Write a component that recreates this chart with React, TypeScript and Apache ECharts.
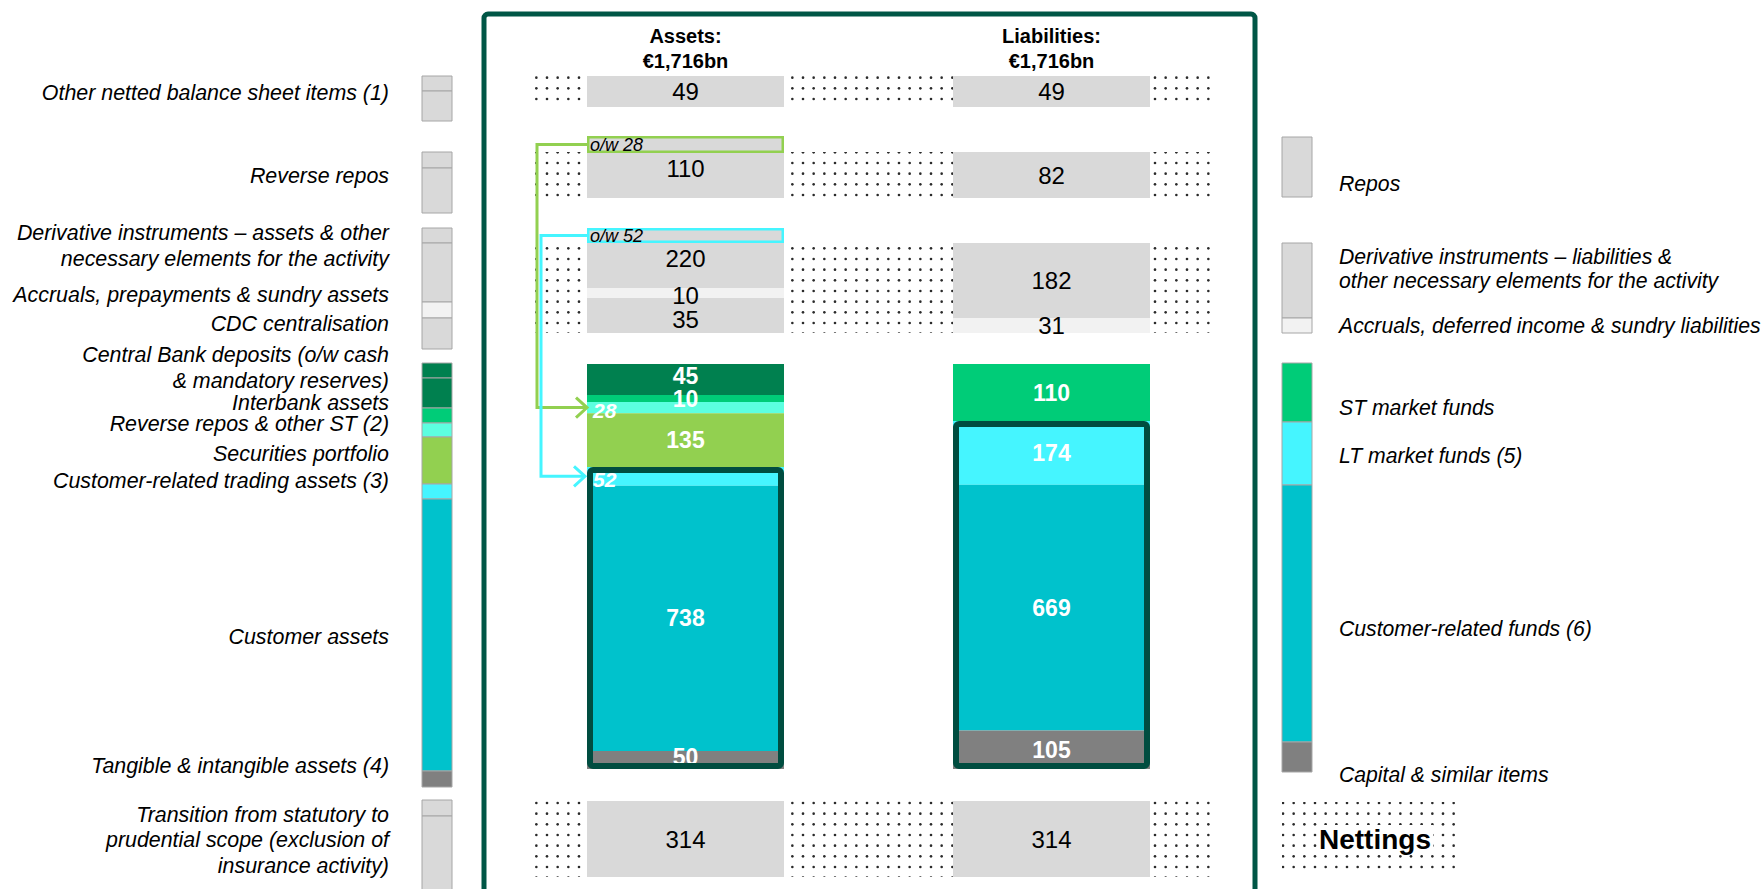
import React, { useEffect, useRef } from "react";
import * as echarts from "echarts";

// ---------------- data (€bn) ----------------
const COLUMNS = ["Assets", "Liabilities"];
const COLUMN_TOTALS = ["€1,716bn", "€1,716bn"];
const OTHER_NETTED = [49, 49];
const REPOS = [110, 82]; // reverse repos / repos
const REVERSE_REPOS_OF_WHICH = 28;
const DERIVATIVES = [220, 182];
const DERIVATIVES_OF_WHICH = 52;
const ASSET_ACCRUALS_CDC = [10, 35]; // accruals & sundry, CDC centralisation
const LIAB_ACCRUALS = [31];
const ASSET_CASH = [45, 10]; // central bank deposits, interbank assets
const ASSET_ST = [28, 135]; // reverse repos & other ST, securities portfolio
const ASSET_LT = [52, 738, 50]; // customer trading assets, customer assets, tangible & intangible
const LIAB_ST = [110]; // ST market funds
const LIAB_LT = [174, 669, 105]; // LT market funds, customer funds, capital
const TRANSITION = [314, 314];

const LEFT_LABELS = [
  "Other netted balance sheet items (1)",
  "Reverse repos",
  "Derivative instruments – assets & other",
  "necessary elements for the activity",
  "Accruals, prepayments & sundry assets",
  "CDC centralisation",
  "Central Bank deposits (o/w cash",
  "& mandatory reserves)",
  "Interbank assets",
  "Reverse repos & other ST (2)",
  "Securities portfolio",
  "Customer-related trading assets (3)",
  "Customer assets",
  "Tangible & intangible assets (4)",
  "Transition from statutory to",
  "prudential scope (exclusion of",
  "insurance activity)",
];
const RIGHT_LABELS = [
  "Repos",
  "Derivative instruments – liabilities &",
  "other necessary elements for the activity",
  "Accruals, deferred income & sundry liabilities",
  "ST market funds",
  "LT market funds (5)",
  "Customer-related funds (6)",
  "Capital & similar items",
];
const NETTINGS_LABEL = "Nettings";

// ---------------- styles & layout ----------------
const FONT = '"Liberation Sans", Arial, Helvetica, sans-serif';
const GREY = "#D9D9D9";
const LIGHT = "#F2F2F2";
const DKGREEN = "#00804F";
const MIDGREEN = "#00CC78";
const AQUA = "#5CFFE0";
const LTGREEN = "#92D050";
const CYAN = "#45F5FF";
const TEAL = "#00C2CC";
const DGREY = "#808080";
const OUTLINE = "#004D40";
const FRAME = "#005646";
const STRIP_BORDER = "#A6A6A6";

const COL_X = [587, 953];
const COL_W = 197;

const LEFT_Y = [93, 176, 233, 259, 295, 324, 355, 381, 403, 424, 454, 481, 637, 766, 815, 840, 866];
const RIGHT_Y = [183, 256, 280, 325, 407, 455, 628, 774];

type Block = {
  col: number;
  top: number;
  height: number;
  values: number[];
  colors: string[];
  kinds: string[];
  offsets?: number[];
  header?: boolean;
  outline?: boolean;
  border?: string;
};

const BLOCKS: Block[] = [
  { col: 0, top: 76, height: 31, values: [OTHER_NETTED[0]], colors: [GREY], kinds: ["dark"], header: true },
  { col: 1, top: 76, height: 31, values: [OTHER_NETTED[1]], colors: [GREY], kinds: ["dark"], header: true },
  { col: 0, top: 136, height: 17, values: [REVERSE_REPOS_OF_WHICH], colors: [GREY], kinds: ["box"], border: LTGREEN },
  { col: 0, top: 153, height: 45, values: [REPOS[0]], colors: [GREY], kinds: ["darkTop"] },
  { col: 1, top: 152, height: 46, values: [REPOS[1]], colors: [GREY], kinds: ["dark"] },
  { col: 0, top: 228, height: 15, values: [DERIVATIVES_OF_WHICH], colors: [GREY], kinds: ["box"], border: CYAN },
  { col: 0, top: 243, height: 45, values: [DERIVATIVES[0]], colors: [GREY], kinds: ["darkTop"] },
  { col: 0, top: 288, height: 45, values: ASSET_ACCRUALS_CDC, colors: [LIGHT, GREY], kinds: ["dark", "dark"], offsets: [2, 4] },
  { col: 1, top: 243, height: 75, values: [DERIVATIVES[1]], colors: [GREY], kinds: ["dark"] },
  { col: 1, top: 318, height: 15, values: LIAB_ACCRUALS, colors: [LIGHT], kinds: ["dark"] },
  { col: 0, top: 364, height: 38, values: ASSET_CASH, colors: [DKGREEN, MIDGREEN], kinds: ["white", "white"], offsets: [-4, 0] },
  { col: 0, top: 402, height: 65, values: ASSET_ST, colors: [AQUA, LTGREEN], kinds: ["whiteLeft", "white"], offsets: [3, 0] },
  { col: 0, top: 467, height: 302, values: ASSET_LT, colors: [CYAN, TEAL, DGREY], kinds: ["whiteLeft", "white", "white"], offsets: [3, 0, -3], outline: true },
  { col: 1, top: 364, height: 57, values: LIAB_ST, colors: [MIDGREEN], kinds: ["white"] },
  { col: 1, top: 421, height: 348, values: LIAB_LT, colors: [CYAN, TEAL, DGREY], kinds: ["white", "white", "white"], outline: true },
  { col: 0, top: 801, height: 76, values: [TRANSITION[0]], colors: [GREY], kinds: ["dark"] },
  { col: 1, top: 801, height: 76, values: [TRANSITION[1]], colors: [GREY], kinds: ["dark"] },
];
const IDX_BOX28 = 2;
const IDX_BOX52 = 5;
const IDX_ASSET_ST = 11;
const IDX_ASSET_LT = 12;

function labelFor(kind: string, dy: number): any {
  const base = { show: true, fontFamily: FONT, textBorderWidth: 0, offset: [0, dy] };
  switch (kind) {
    case "dark":
      return { ...base, position: "inside", color: "#000", fontSize: 24 };
    case "darkTop":
      return { ...base, position: "insideTop", distance: 3, color: "#000", fontSize: 24 };
    case "white":
      return { ...base, position: "inside", color: "#fff", fontWeight: "bold", fontSize: 23 };
    case "whiteLeft":
      return { ...base, position: "insideLeft", distance: 6, color: "#fff", fontWeight: "bold", fontStyle: "italic", fontSize: 21 };
    case "box":
      return { ...base, position: "insideLeft", distance: 3, color: "#000", fontStyle: "italic", fontSize: 18, formatter: "o/w {c}" };
  }
  return base;
}

function makeDots(): any {
  const c = document.createElement("canvas");
  c.width = 32;
  c.height = 32;
  const ctx = c.getContext("2d")!;
  ctx.fillStyle = "#2a2a2a";
  for (let i = 0; i < 3; i++)
    for (let j = 0; j < 3; j++) {
      ctx.beginPath();
      ctx.arc(3 + i * 10.67, 3 + j * 10.67, 1.3, 0, Math.PI * 2);
      ctx.fill();
    }
  return { image: c, repeat: "repeat", imageWidth: 32, imageHeight: 32 };
}

function strip(x: number, segs: [number, number, string][]): any[] {
  return segs.map(([y0, y1, color]) => ({
    type: "rect",
    silent: true,
    z: 1,
    shape: { x, y: y0, width: 30, height: y1 - y0 },
    style: { fill: color, stroke: STRIP_BORDER, lineWidth: 1 },
  }));
}

function staticGraphics(): any[] {
  const dots = makeDots();
  const els: any[] = [];
  // dotted "netting" backgrounds
  const rows: [number, number][] = [
    [76, 107],
    [152, 198],
    [243, 333],
    [801, 877],
  ];
  rows.forEach(([y0, y1]) =>
    els.push({ type: "rect", silent: true, z: 0, shape: { x: 527, y: y0, width: 685, height: y1 - y0 }, style: { fill: dots } })
  );
  els.push({ type: "rect", silent: true, z: 0, shape: { x: 1282, y: 802, width: 176, height: 71 }, style: { fill: dots } });
  els.push({
    type: "text",
    silent: true,
    z: 2,
    x: 1317,
    y: 839,
    style: {
      text: NETTINGS_LABEL,
      fontFamily: FONT,
      fontWeight: "bold",
      fontSize: 28,
      fill: "#000",
      align: "left",
      textAlign: "left",
      verticalAlign: "middle",
      textVerticalAlign: "middle",
      backgroundColor: "#fff",
      padding: [0, 2],
    },
  });
  // frame
  els.push({
    type: "rect",
    silent: true,
    z: 20,
    shape: { x: 484, y: 14, width: 771, height: 920, r: 4 },
    style: { fill: "none", stroke: FRAME, lineWidth: 5 },
  });
  // left legend strips
  els.push(
    ...strip(422, [
      [76, 91, GREY],
      [91, 121, GREY],
      [152, 168, GREY],
      [168, 213, GREY],
      [228, 243, GREY],
      [243, 302, GREY],
      [302, 318, LIGHT],
      [318, 349, GREY],
      [363, 378, DKGREEN],
      [378, 408, DKGREEN],
      [408, 423, MIDGREEN],
      [423, 437, AQUA],
      [437, 484, LTGREEN],
      [484, 499, CYAN],
      [499, 771, TEAL],
      [771, 787, DGREY],
      [800, 816, GREY],
      [816, 900, GREY],
    ])
  );
  // right legend strips
  els.push(
    ...strip(1282, [
      [137, 197, GREY],
      [243, 318, GREY],
      [318, 333, LIGHT],
      [363, 422, MIDGREEN],
      [422, 485, CYAN],
      [485, 742, TEAL],
      [742, 772, DGREY],
    ])
  );
  LEFT_LABELS.forEach((t, i) =>
    els.push({
      type: "text",
      silent: true,
      x: 389,
      y: LEFT_Y[i],
      style: {
        text: t,
        fontFamily: FONT,
        fontStyle: "italic",
        fontSize: 21.4,
        fill: "#000",
        align: "right",
        textAlign: "right",
        verticalAlign: "middle",
        textVerticalAlign: "middle",
      },
    })
  );
  RIGHT_LABELS.forEach((t, i) =>
    els.push({
      type: "text",
      silent: true,
      x: 1339,
      y: RIGHT_Y[i],
      style: {
        text: t,
        fontFamily: FONT,
        fontStyle: "italic",
        fontSize: 21.2,
        fill: "#000",
        align: "left",
        textAlign: "left",
        verticalAlign: "middle",
        textVerticalAlign: "middle",
      },
    })
  );
  return els;
}

function buildOption(): any {
  const grid: any[] = [];
  const xAxis: any[] = [];
  const yAxis: any[] = [];
  const series: any[] = [];
  BLOCKS.forEach((b, i) => {
    grid.push({ left: COL_X[b.col], top: b.top, width: COL_W, height: b.height });
    xAxis.push({
      type: "category",
      gridIndex: i,
      data: [COLUMNS[b.col]],
      show: !!b.header,
      position: "top",
      axisLine: { show: false },
      axisTick: { show: false },
      splitLine: { show: false },
      axisLabel: {
        show: !!b.header,
        interval: 0,
        margin: 3,
        formatter: (v: string) => `${v}:\n${COLUMN_TOTALS[b.col]}`,
        fontFamily: FONT,
        fontWeight: "bold",
        fontSize: 20,
        lineHeight: 25,
        color: "#000",
      },
    });
    const total = b.values.reduce((a, v) => a + v, 0);
    yAxis.push({ type: "value", gridIndex: i, min: 0, max: total, inverse: true, show: false, splitLine: { show: false } });
    b.values.forEach((v, j) => {
      series.push({
        type: "bar",
        xAxisIndex: i,
        yAxisIndex: i,
        stack: "blk" + i,
        barWidth: "100%",
        barGap: "-100%",
        silent: true,
        data: [v],
        itemStyle: b.border
          ? { color: b.colors[j], borderColor: b.border, borderWidth: 2.5 }
          : { color: b.colors[j] },
        label: labelFor(b.kinds[j], b.offsets ? b.offsets[j] : 0),
      });
    });
    if (b.outline) {
      series.push({
        type: "bar",
        xAxisIndex: i,
        yAxisIndex: i,
        barWidth: "100%",
        barGap: "-100%",
        silent: true,
        z: 5,
        data: [total],
        itemStyle: { color: "rgba(0,0,0,0)", borderColor: OUTLINE, borderWidth: 6, borderRadius: 3 },
        label: { show: false },
      });
    }
  });
  return {
    animation: false,
    backgroundColor: "#fff",
    grid,
    xAxis,
    yAxis,
    series,
    graphic: { elements: staticGraphics() },
  };
}

function arrow(color: string, xv: number, yFrom: number, yTo: number, xBox: number, xTip: number): any[] {
  return [
    {
      type: "polyline",
      silent: true,
      z: 30,
      shape: { points: [[xBox, yFrom], [xv, yFrom], [xv, yTo], [xTip, yTo]] },
      style: { fill: "none", stroke: color, lineWidth: 3 },
    },
    {
      type: "polyline",
      silent: true,
      z: 30,
      shape: { points: [[xTip - 11, yTo - 10], [xTip, yTo], [xTip - 11, yTo + 10]] },
      style: { fill: "none", stroke: color, lineWidth: 3 },
    },
  ];
}

export default function App() {
  const ref = useRef<HTMLDivElement>(null);
  useEffect(() => {
    if (!ref.current) return;
    const chart = echarts.init(ref.current, undefined, { renderer: "svg" });
    const option = buildOption();
    chart.setOption(option);
    // arrows: positions derived from the axes
    const px = (axis: number, v: number) => chart.convertToPixel({ yAxisIndex: axis } as any, v) as number;
    const yBox28 = px(IDX_BOX28, REVERSE_REPOS_OF_WHICH / 2);
    const y28 = px(IDX_ASSET_ST, ASSET_ST[0] / 2);
    const yBox52 = px(IDX_BOX52, DERIVATIVES_OF_WHICH / 2);
    const y52 = px(IDX_ASSET_LT, ASSET_LT[0] / 2);
    const left = COL_X[0];
    const arrows = [
      ...arrow(LTGREEN, 537, yBox28, y28, left, left),
      ...arrow(CYAN, 541, yBox52, y52, left, left - 2),
    ];
    chart.setOption({ graphic: { elements: [...option.graphic.elements, ...arrows] } });
    return () => chart.dispose();
  }, []);
  return (
    <div
      ref={ref}
      style={{ position: "fixed", left: 0, top: 0, width: "1764px", height: "889px", background: "#fff" }}
    />
  );
}
